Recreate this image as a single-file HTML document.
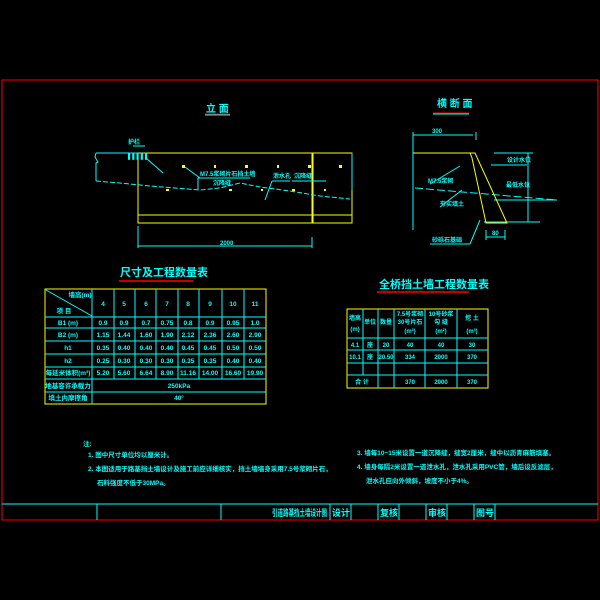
<!DOCTYPE html>
<html><head><meta charset="utf-8"><style>
html,body{margin:0;padding:0;background:#000;}
svg{display:block}
text{font-family:"Liberation Sans","Noto Sans CJK SC",sans-serif;font-weight:bold}
</style></head><body>
<svg width="600" height="600" viewBox="0 0 600 600" xmlns="http://www.w3.org/2000/svg">
<rect width="600" height="600" fill="#000"/>
<!-- frame -->
<rect x="2" y="80" width="596" height="440" fill="none" stroke="#ff0000" stroke-width="1"/>
<line x1="2" y1="504" x2="598" y2="504" stroke="#00ffff"/>
<g stroke="#00ffff">
<line x1="97" y1="504" x2="97" y2="520"/><line x1="221" y1="504" x2="221" y2="520"/>
<line x1="330" y1="504" x2="330" y2="520"/><line x1="351" y1="504" x2="351" y2="520"/>
<line x1="378" y1="504" x2="378" y2="520"/><line x1="399" y1="504" x2="399" y2="520"/>
<line x1="426" y1="504" x2="426" y2="520"/><line x1="447" y1="504" x2="447" y2="520"/>
<line x1="474" y1="504" x2="474" y2="520"/><line x1="495" y1="504" x2="495" y2="520"/>
</g>
<g fill="#00ffff" font-size="9">
<text x="272" y="516" textLength="55" lengthAdjust="spacingAndGlyphs">引道路基挡土墙设计图</text>
<text x="332" y="516">设计</text><text x="380" y="516">复核</text>
<text x="428" y="516">审核</text><text x="476" y="516">图号</text>
</g>
<!-- elevation -->
<text x="206" y="112" fill="#00ffff" font-size="10">立 面</text>
<line x1="205" y1="114" x2="230" y2="114" stroke="#ff0000"/>
<line x1="205" y1="115" x2="230" y2="115" stroke="#00ffff"/>
<rect x="138" y="153" width="174" height="70" fill="none" stroke="#ffff00"/>
<line x1="138" y1="215" x2="312" y2="215" stroke="#ffff00"/>
<rect x="313" y="153" width="39" height="70" fill="none" stroke="#ffff00"/>
<line x1="313" y1="215" x2="352" y2="215" stroke="#ffff00"/>
<g stroke="#00ffff" fill="none" stroke-dasharray="5,2">
<polyline points="96,181 120,183 150,186 175,188 200,190 220,188 240,183 260,187 290,191 320,196 350,199"/>
</g>
<g stroke="#00ffff" fill="none">
<polyline points="96,153 138,153"/><polyline points="96,153 95,157 98,162 96,163 96,181"/>
<line x1="352" y1="153" x2="352" y2="190"/>
<line x1="198" y1="178" x2="198" y2="190"/><line x1="198" y1="178" x2="250" y2="178"/>
<line x1="272" y1="181" x2="290" y2="181"/><line x1="292" y1="181" x2="326" y2="181"/>
<line x1="146" y1="158" x2="163" y2="173"/><line x1="185" y1="167" x2="200" y2="178"/>
<line x1="272" y1="181" x2="265" y2="200"/>
<line x1="138" y1="226" x2="138" y2="248"/><line x1="312" y1="237" x2="312" y2="248"/>
<line x1="138" y1="246" x2="312" y2="246"/>
<line x1="133" y1="146" x2="145" y2="146"/>
</g>
<g fill="#00ffff" font-size="6">
<text x="128" y="144">护栏</text><text x="128" y="158">▌▌▌▌▌</text>
<text x="200" y="176">M7.5浆砌片石挡土墙</text><text x="213" y="185">沉降缝</text>
<text x="273" y="178">泄水孔</text><text x="294" y="178">沉降缝</text>
<text x="220" y="245">2000</text>
</g>
<g fill="#ffff00">
<rect x="182" y="165" width="3" height="3"/><rect x="214" y="165" width="2" height="3"/>
<rect x="245" y="165" width="3" height="3"/><rect x="277" y="165" width="2" height="3"/>
<rect x="308" y="165" width="3" height="3"/><rect x="339" y="165" width="3" height="3"/>
<rect x="166" y="189" width="3" height="2"/><rect x="229" y="189" width="3" height="2"/>
<rect x="261" y="189" width="2" height="2"/><rect x="292" y="189" width="3" height="2"/>
<rect x="324" y="189" width="2" height="2"/>
</g>
<!-- cross section -->
<text x="437" y="107" fill="#00ffff" font-size="10">横 断 面</text>
<line x1="433" y1="113" x2="469" y2="113" stroke="#ff0000"/>
<line x1="433" y1="114" x2="469" y2="114" stroke="#00ffff"/>
<g stroke="#00ffff" fill="none">
<line x1="413" y1="135" x2="473" y2="135"/><line x1="413" y1="132" x2="413" y2="230"/>
<line x1="476" y1="132" x2="476" y2="140"/>
<line x1="415" y1="188" x2="557" y2="200" stroke-dasharray="8,3"/>
<line x1="494" y1="153" x2="533" y2="153"/><line x1="491" y1="165" x2="527" y2="165"/>
<line x1="528" y1="153" x2="528" y2="222"/><line x1="494" y1="200" x2="557" y2="200"/>
<line x1="484" y1="222" x2="540" y2="222"/><line x1="486" y1="237" x2="505" y2="237"/>
<line x1="486" y1="230" x2="486" y2="240"/><line x1="505" y1="230" x2="505" y2="240"/>
<line x1="430" y1="244" x2="470" y2="244"/><line x1="470" y1="244" x2="480" y2="220"/>
<line x1="430" y1="184" x2="460" y2="166"/><line x1="440" y1="207" x2="462" y2="190"/>
</g>
<polygon points="413,153 475,153 507,223 486,223 472,158 470,153" fill="none" stroke="#ffff00"/>
<g fill="#00ffff" font-size="6">
<text x="432" y="133">300</text><text x="507" y="162">设计水位</text>
<text x="506" y="187">最低水位</text><text x="428" y="183">M7.5浆砌</text>
<text x="440" y="206">夯实填土</text><text x="432" y="242">砂砾石基础</text>
<text x="492" y="235">80</text>
</g>
<!-- left table -->
<text x="120" y="276" fill="#00ffff" font-size="11">尺寸及工程数量表</text>
<line x1="119" y1="281" x2="193" y2="281" stroke="#ff0000" stroke-width="1.5"/>
<rect x="45" y="289" width="221" height="115" fill="none" stroke="#ffff00"/>
<g stroke="#00ffff">
<line x1="45" y1="317" x2="266" y2="317"/><line x1="45" y1="328" x2="266" y2="328"/>
<line x1="45" y1="341" x2="266" y2="341"/><line x1="45" y1="354" x2="266" y2="354"/>
<line x1="45" y1="367" x2="266" y2="367"/><line x1="45" y1="379" x2="266" y2="379"/>
<line x1="45" y1="392" x2="266" y2="392"/>
<line x1="92" y1="289" x2="92" y2="404"/>
<line x1="114" y1="289" x2="114" y2="379"/><line x1="135" y1="289" x2="135" y2="379"/>
<line x1="156" y1="289" x2="156" y2="379"/><line x1="178" y1="289" x2="178" y2="379"/>
<line x1="199" y1="289" x2="199" y2="379"/><line x1="222" y1="289" x2="222" y2="379"/>
<line x1="244" y1="289" x2="244" y2="379"/>
<line x1="46" y1="290" x2="92" y2="316"/>
</g>
<g fill="#00ffff" font-size="6.5" text-anchor="middle">
<text x="80" y="297">墙高(m)</text><text x="64" y="313">项 目</text>
<text x="103" y="306">4</text><text x="124" y="306">5</text><text x="146" y="306">6</text>
<text x="167" y="306">7</text><text x="188" y="306">8</text><text x="210" y="306">9</text>
<text x="233" y="306">10</text><text x="255" y="306">11</text>
<text x="68" y="325">B1 (m)</text><text x="68" y="337">B2 (m)</text>
<text x="68" y="350">h1</text><text x="68" y="363">h2</text>
<text x="68" y="375">每延米体积(m³)</text><text x="68" y="388">地基容许承载力</text>
<text x="68" y="400">填土内摩擦角</text>
<text x="103" y="325">0.9</text><text x="124" y="325">0.9</text><text x="146" y="325">0.7</text><text x="167" y="325">0.75</text><text x="188" y="325">0.8</text><text x="210" y="325">0.9</text><text x="233" y="325">0.95</text><text x="255" y="325">1.0</text>
<text x="103" y="337">1.15</text><text x="124" y="337">1.44</text><text x="146" y="337">1.60</text><text x="167" y="337">1.90</text><text x="188" y="337">2.12</text><text x="210" y="337">2.36</text><text x="233" y="337">2.60</text><text x="255" y="337">2.90</text>
<text x="103" y="350">0.35</text><text x="124" y="350">0.40</text><text x="146" y="350">0.40</text><text x="167" y="350">0.40</text><text x="188" y="350">0.45</text><text x="210" y="350">0.45</text><text x="233" y="350">0.50</text><text x="255" y="350">0.50</text>
<text x="103" y="363">0.25</text><text x="124" y="363">0.30</text><text x="146" y="363">0.30</text><text x="167" y="363">0.30</text><text x="188" y="363">0.35</text><text x="210" y="363">0.35</text><text x="233" y="363">0.40</text><text x="255" y="363">0.40</text>
<text x="103" y="375">5.20</text><text x="124" y="375">5.60</text><text x="146" y="375">6.64</text><text x="167" y="375">8.90</text><text x="188" y="375">11.16</text><text x="210" y="375">14.00</text><text x="233" y="375">16.60</text><text x="255" y="375">19.90</text>
<text x="179" y="388">250kPa</text><text x="179" y="400">40°</text>
</g>
<!-- right table -->
<text x="379" y="288" fill="#00ffff" font-size="11">全桥挡土墙工程数量表</text>
<line x1="377" y1="292" x2="469" y2="292" stroke="#ff0000" stroke-width="1.5"/>
<rect x="347" y="309" width="141" height="79" fill="none" stroke="#ffff00"/>
<g stroke="#00ffff">
<line x1="347" y1="338" x2="488" y2="338"/><line x1="347" y1="350" x2="488" y2="350"/>
<line x1="347" y1="363" x2="488" y2="363"/><line x1="347" y1="375" x2="488" y2="375"/>
<line x1="363" y1="309" x2="363" y2="375"/><line x1="378" y1="309" x2="378" y2="388"/>
<line x1="394" y1="309" x2="394" y2="388"/><line x1="425" y1="309" x2="425" y2="388"/>
<line x1="457" y1="309" x2="457" y2="388"/>
</g>
<g fill="#00ffff" font-size="6" text-anchor="middle">
<text x="355" y="320">墙高</text><text x="355" y="331">(m)</text>
<text x="370" y="324">单位</text><text x="386" y="324">数量</text>
<text x="410" y="316">7.5号浆砌</text><text x="410" y="324">30号片石</text><text x="410" y="333">(m³)</text>
<text x="441" y="316">10号砂浆</text><text x="441" y="324">勾 缝</text><text x="441" y="333">(m²)</text>
<text x="472" y="320">挖 土</text><text x="472" y="333">(m³)</text>
<text x="355" y="347">4.1</text><text x="370" y="347">座</text><text x="386" y="347">20</text>
<text x="410" y="347">40</text><text x="441" y="347">40</text><text x="472" y="347">30</text>
<text x="355" y="359">10.1</text><text x="370" y="359">座</text><text x="386" y="359">20.50</text>
<text x="410" y="359">334</text><text x="441" y="359">2000</text><text x="472" y="359">370</text>
<text x="362" y="384">合 计</text>
<text x="410" y="384">370</text><text x="441" y="384">2000</text><text x="472" y="384">370</text>
</g>
<!-- notes -->
<g fill="#00ffff" font-size="6.5">
<text x="83" y="446">注:</text>
<text x="88" y="457">1. 图中尺寸单位均以厘米计。</text>
<text x="88" y="471">2. 本图适用于路基挡土墙设计及施工前应详细核实，挡土墙墙身采用7.5号浆砌片石，</text>
<text x="97" y="485">石料强度不低于30MPa。</text>
<text x="357" y="455">3. 墙每10~15米设置一道沉降缝，缝宽2厘米，缝中以沥青麻筋填塞。</text>
<text x="357" y="469">4. 墙身每隔2米设置一道泄水孔，泄水孔采用PVC管，墙后设反滤层，</text>
<text x="366" y="483">泄水孔应向外倾斜，坡度不小于4%。</text>
</g>
</svg>
</body></html>
